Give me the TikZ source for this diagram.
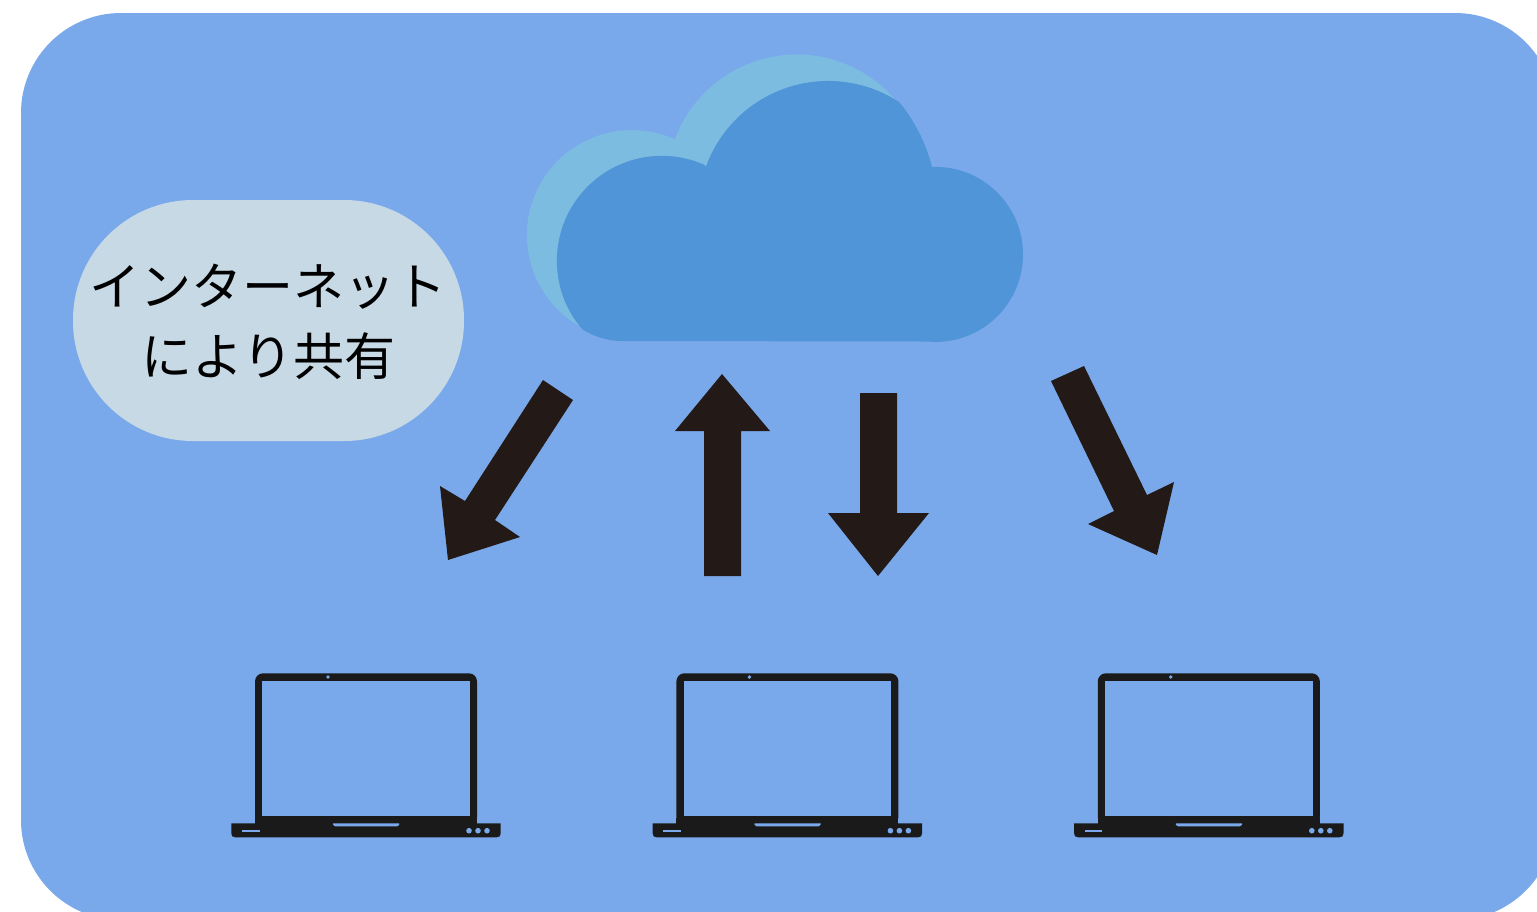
\documentclass[tikz,border=0pt]{standalone}
\usepackage{fontspec}
\newfontfamily\jpfont{Noto Sans CJK JP}
\definecolor{bgblue}{HTML}{7AA9EB}
\definecolor{cloudlight}{HTML}{7DBCE1}
\definecolor{clouddark}{HTML}{5095D7}
\definecolor{bubblefill}{HTML}{C7D9E5}
\definecolor{arrowink}{HTML}{231916}
\definecolor{laptopink}{HTML}{1A1A1A}
\tikzset{
  panel/.style={fill=bgblue,rounded corners=100pt},
  bigarrow/.style={fill=arrowink},
  bubble/.style={fill=bubblefill,rounded corners=120pt,minimum width=391pt,minimum height=241pt,inner sep=0pt},
  bubbletext/.style={align=center,inner sep=0pt,font=\jpfont\fontsize{51}{70}\selectfont}
}
\newcommand{\laptopdrawing}{%
    \fill[laptopink,rounded corners=8pt] (255,825) -- (255,673.3) -- (477,673.3) -- (477,825) -- cycle;
    \fill[bgblue] (262.3,681) rectangle (469.7,816);
    \fill[bgblue] (328,677) circle (1.9);
    \fill[laptopink] (231.3,823.3) -- (231.3,833.3) .. controls (231.3,836) and (232.5,837.3) .. (235.3,837.3)
       -- (496.7,837.3) .. controls (499.5,837.3) and (500.7,836) .. (500.7,833.3) -- (500.7,823.3) -- cycle;
    \fill[laptopink] (255,818) rectangle (477,825);
    \fill[bgblue,rounded corners=1pt] (332.3,823.3) -- (334.5,826.4) -- (397.8,826.4) -- (400,823.3) -- cycle;
    \fill[bgblue] (242,829.9) rectangle (259.5,831.5);
    \fill[bgblue] (469,830.7) circle (2.8);
    \fill[bgblue] (478,830.7) circle (2.8);
    \fill[bgblue] (487,830.7) circle (2.8);
}
\begin{document}
\begin{tikzpicture}[x=1pt,y=1pt,yscale=-1]
\useasboundingbox (0,0) rectangle (1537,911);
\fill[white] (0,0) rectangle (1537,911);
\begin{scope}
  \clip (0,0) rectangle (1537,911);
  \fill[panel] (21,13) rectangle (1555,920);
\end{scope}
% cloud, light part
\fill[cloudlight] (581,327) arc[start angle=119,end angle=294,radius=105]
  -- (675,139) arc[start angle=200.5,end angle=320.6,radius=130] -- cycle;
% cloud, dark part
\fill[clouddark] (582,329) arc[start angle=139.5,end angle=293.7,radius=105]
  -- (706,166.5) arc[start angle=200,end angle=303.2,radius=130]
  .. controls (914,120) and (926,143) .. (932,167)
  arc[start angle=267.7,end angle=450,radius=87.5]
  -- (925,341.5) -- (622,341)
  .. controls (606,341) and (593,336) .. cycle;
% label
\node[bubble] (labelshape) at (268.5,320.5) {};
\node[bubbletext] (label) at (268.3,322) {インターネット\\により共有};
% arrows
\fill[bigarrow] (543,380) -- (465,501) -- (440,486) -- (448,560) -- (520,537) -- (495,520) -- (573,400) -- cycle;
\fill[bigarrow] (722,374) -- (770,431) -- (741,431) -- (741,576) -- (704,576) -- (704,431) -- (675,431) -- cycle;
\fill[bigarrow] (860,393) -- (897,393) -- (897,513) -- (929,513) -- (878,576) -- (828,513) -- (860,513) -- cycle;
\fill[bigarrow] (1051,381) -- (1084,366) -- (1147,495) -- (1174,482) -- (1157,555) -- (1088,524) -- (1114,511) -- cycle;
% laptops
\foreach \laptopshift in {0,421.4,842.8}{
  \begin{scope}[xshift=\laptopshift pt]
    \laptopdrawing
  \end{scope}
}
\end{tikzpicture}
\end{document}
